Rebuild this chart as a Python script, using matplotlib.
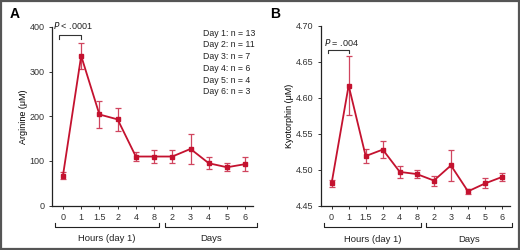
import matplotlib
matplotlib.use("Agg")
import matplotlib.pyplot as plt
import matplotlib.transforms as mtransforms
from matplotlib.patches import Rectangle

tick_labels = ["0", "1", "1.5", "2", "4", "8", "2", "3", "4", "5", "6"]
pos = list(range(len(tick_labels)))

arginine = [67, 335, 204, 193, 110, 110, 110, 127, 95, 86, 93]
arginine_err = [8, 29, 30, 25, 10, 14, 14, 33, 13, 9, 16]

kyotorphin = [4.481, 4.617, 4.519, 4.528, 4.497, 4.494, 4.485, 4.506, 4.470, 4.481, 4.490]
kyotorphin_err = [0.005, 0.041, 0.010, 0.012, 0.008, 0.006, 0.007, 0.022, 0.003, 0.007, 0.005]

counts = ["Day 1: n = 13", "Day 2: n = 11", "Day 3: n = 7",
          "Day 4: n = 6", "Day 5: n = 4", "Day 6: n = 3"]

red = "#c4122f"
plt.rcParams["font.family"] = ["Liberation Sans", "DejaVu Sans"]

fig = plt.figure(figsize=(5.2, 2.5), dpi=100)
fig.patches.append(Rectangle((0.002, 0.004), 0.996, 0.992, transform=fig.transFigure,
                             fill=False, edgecolor="#555555", linewidth=1.6))

axA = fig.add_axes([0.100, 0.177, 0.387, 0.716])
axB = fig.add_axes([0.617, 0.177, 0.364, 0.720])


def style(ax, xlim):
    ax.spines["top"].set_visible(False)
    ax.spines["right"].set_visible(False)
    for s in ("left", "bottom"):
        ax.spines[s].set_linewidth(0.9)
        ax.spines[s].set_color("#222222")
    ax.set_xlim(*xlim)
    ax.set_xticks(pos)
    ax.set_xticklabels(tick_labels)
    ax.tick_params(labelsize=6.5, length=2.5, width=0.7, colors="#333333", pad=3)


def brackets(ax, hours, days):
    trans = mtransforms.blended_transform_factory(ax.transData, ax.transAxes)
    for (x0, x1), lab in ((hours, "Hours (day 1)"), (days, "Days")):
        ax.plot([x0, x0, x1, x1], [-0.097, -0.118, -0.118, -0.097], transform=trans,
                color="#222222", lw=0.8, clip_on=False)
        ax.text((x0 + x1) / 2, -0.16, lab, transform=trans, ha="center", va="top",
                fontsize=6.8, color="#222222")


# panel A
axA.errorbar(pos, arginine, yerr=arginine_err, color=red, ecolor="#d0455f", lw=1.3,
             elinewidth=0.9, capsize=2, capthick=0.9, marker="s", ms=2.8)
style(axA, (-0.6, 10.44))
axA.set_ylim(0, 400)
axA.set_yticks([0, 100, 200, 300, 400])
axA.set_ylabel("Arginine (\u03bcM)", fontsize=6.5, labelpad=1)
axA.plot([-0.2, -0.2, 1.0, 1.0], [373, 382, 382, 373], color="#333333", lw=0.8, clip_on=False)
axA.text(-0.55, 402, "$P$ < .0001", fontsize=6.5, va="center", ha="left", color="#222222")
brackets(axA, (-0.44, 5.27), (5.6, 10.66))
for i, t in enumerate(counts):
    fig.text(203 / 520, 1 - (33 + i * 11.8) / 250, t, fontsize=6.3, va="center",
             ha="left", color="#222222")

# panel B
axB.errorbar(pos, kyotorphin, yerr=kyotorphin_err, color=red, ecolor="#d0455f", lw=1.3,
             elinewidth=0.9, capsize=2, capthick=0.9, marker="s", ms=2.8)
style(axB, (-0.63, 10.47))
axB.set_ylim(4.45, 4.70)
axB.set_yticks([4.45, 4.50, 4.55, 4.60, 4.65, 4.70])
axB.set_yticklabels(["4.45", "4.50", "4.55", "4.60", "4.65", "4.70"])
axB.set_ylabel("Kyotorphin (\u03bcM)", fontsize=6.5, labelpad=1)
axB.plot([-0.2, -0.2, 1.04, 1.04], [4.6625, 4.667, 4.667, 4.6625], color="#333333",
         lw=0.8, clip_on=False)
axB.text(-0.45, 4.677, "$P$ = .004", fontsize=6.5, va="center", ha="left", color="#222222")
brackets(axB, (-0.43, 5.24), (5.52, 10.57))

fig.text(10 / 520, 1 - 14 / 250, "A", fontsize=10, fontweight="bold", va="center")
fig.text(270 / 520, 1 - 14 / 250, "B", fontsize=10, fontweight="bold", va="center")

fig.savefig("out.png", dpi=100)
